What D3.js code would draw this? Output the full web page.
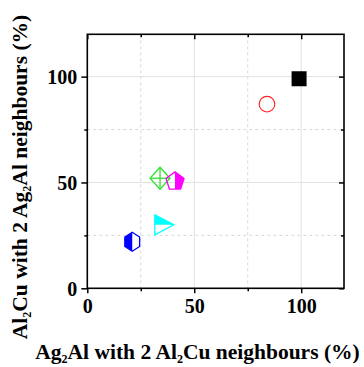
<!DOCTYPE html>
<html><head><meta charset="utf-8">
<script src="https://cdn.jsdelivr.net/npm/d3@7"></script>
<style>
html,body{margin:0;padding:0;background:#fff;}
svg{display:block;}
text{font-family:"Liberation Serif","Times New Roman",serif;font-weight:bold;fill:#000;}
</style>
</head><body>
<svg id="c" width="364" height="367"></svg>
<script>
// ---- data ----
const xValues = [99, 84, 34, 41, 36, 21];
const yValues = [99, 87, 52, 51, 30, 22];
const markerShapes = ["square", "circle", "diamondCross", "pentagonHalf", "triangleHalf", "hexagonHalf"];
const markerColors = ["#000000", "#ff2020", "#33e033", "#ff00ff", "#00ffff", "#0000ff"];
const majorTicks = [0, 50, 100];
const minorTicks = [25, 75];
const axisDomain = [0, 120];
const xTitle = [["Ag", false], ["2", true], ["Al with 2 Al", false], ["2", true], ["Cu neighbours (%)", false]];
const yTitle = [["Al", false], ["2", true], ["Cu with 2 Ag", false], ["2", true], ["Al neighbours (%)", false]];

const svg = d3.select("#c");
const L = 87.3, R = 344, T = 34.3, B = 288.3;
const x = d3.scaleLinear().domain(axisDomain).range([L, R]);
const y = d3.scaleLinear().domain(axisDomain).range([B, T]);

// grid
const g = svg.append("g");
majorTicks.filter(d => d > 0).forEach(d => {
  g.append("line").attr("x1", x(d)).attr("x2", x(d)).attr("y1", T).attr("y2", B).attr("stroke", "#e2e2e2").attr("stroke-width", 1);
  g.append("line").attr("y1", y(d)).attr("y2", y(d)).attr("x1", L).attr("x2", R).attr("stroke", "#e2e2e2").attr("stroke-width", 1);
});
minorTicks.forEach(d => {
  g.append("line").attr("x1", x(d)).attr("x2", x(d)).attr("y1", T).attr("y2", B).attr("stroke", "#d8d8d8").attr("stroke-width", 1).attr("stroke-dasharray", "3,3");
  g.append("line").attr("y1", y(d)).attr("y2", y(d)).attr("x1", L).attr("x2", R).attr("stroke", "#d8d8d8").attr("stroke-width", 1).attr("stroke-dasharray", "3,3");
});

// axes
function styleAxis(sel) {
  sel.select(".domain").remove();
  sel.selectAll(".tick line").attr("stroke", "#000").attr("stroke-width", 1.5);
  sel.selectAll(".tick text").style("font-size", "20px").style("font-family", '"Liberation Serif",serif').style("font-weight", "bold");
}
const xAx = svg.append("g").attr("transform", `translate(0,${B})`)
  .call(d3.axisBottom(x).tickValues(majorTicks).tickSize(5).tickPadding(6).tickFormat(d3.format("d")));
styleAxis(xAx);
const xMin = svg.append("g").attr("transform", `translate(0,${B})`)
  .call(d3.axisBottom(x).tickValues(minorTicks).tickSize(3).tickFormat(""));
styleAxis(xMin);
const yAx = svg.append("g").attr("transform", `translate(${L},0)`)
  .call(d3.axisLeft(y).tickValues(majorTicks).tickSize(6).tickPadding(4).tickFormat(d3.format("d")));
styleAxis(yAx);
yAx.selectAll(".tick text").attr("dy", "0.34em");
const yMin = svg.append("g").attr("transform", `translate(${L},0)`)
  .call(d3.axisLeft(y).tickValues(minorTicks).tickSize(3).tickFormat(""));
styleAxis(yMin);
// top/right inward ticks
const xTop = svg.append("g").attr("transform", `translate(0,${T})`)
  .call(d3.axisTop(x).tickValues(majorTicks).tickSize(-5).tickFormat(""));
styleAxis(xTop);
const xTopMin = svg.append("g").attr("transform", `translate(0,${T})`)
  .call(d3.axisTop(x).tickValues(minorTicks).tickSize(-3).tickFormat(""));
styleAxis(xTopMin);
const yR = svg.append("g").attr("transform", `translate(${R},0)`)
  .call(d3.axisRight(y).tickValues(majorTicks).tickSize(-5).tickFormat(""));
styleAxis(yR);
const yRMin = svg.append("g").attr("transform", `translate(${R},0)`)
  .call(d3.axisRight(y).tickValues(minorTicks).tickSize(-3).tickFormat(""));
styleAxis(yRMin);

// frame
svg.append("rect").attr("x", L).attr("y", T).attr("width", R - L).attr("height", B - T)
  .attr("fill", "none").attr("stroke", "#000").attr("stroke-width", 1.6);

// markers
const m = svg.append("g");
function poly(cx, cy, pts) { return pts.map(p => [cx + p[0], cy + p[1]]); }
xValues.forEach((xv, i) => {
  const cx = x(xv), cy = y(yValues[i]), c = markerColors[i], s = markerShapes[i];
  if (s === "square") {
    m.append("rect").attr("x", cx - 7.5).attr("y", cy - 7.5).attr("width", 15).attr("height", 15).attr("fill", c);
  } else if (s === "circle") {
    m.append("circle").attr("cx", cx).attr("cy", cy).attr("r", 7.8).attr("fill", "none").attr("stroke", c).attr("stroke-width", 1.1);
  } else if (s === "diamondCross") {
    const w = 10, h = 11;
    m.append("polygon").attr("points", poly(cx, cy, [[0, -h], [w, 0], [0, h], [-w, 0]]).join(" "))
      .attr("fill", "none").attr("stroke", c).attr("stroke-width", 1.3);
    m.append("line").attr("x1", cx - w).attr("x2", cx + w).attr("y1", cy).attr("y2", cy).attr("stroke", c).attr("stroke-width", 1.3);
    m.append("line").attr("x1", cx).attr("x2", cx).attr("y1", cy - h).attr("y2", cy + h).attr("stroke", c).attr("stroke-width", 1.3);
  } else if (s === "pentagonHalf") {
    const r = 9.5;
    const pts = d3.range(5).map(k => { const a = -Math.PI / 2 + k * 2 * Math.PI / 5; return [Math.cos(a) * r, Math.sin(a) * r + 1]; });
    const bottomMid = [0, (pts[2][1] + pts[3][1]) / 2];
    m.append("polygon").attr("points", poly(cx, cy, [pts[0], pts[1], pts[2], bottomMid]).join(" ")).attr("fill", c);
    m.append("polygon").attr("points", poly(cx, cy, pts).join(" ")).attr("fill", "none").attr("stroke", c).attr("stroke-width", 1.3);
  } else if (s === "triangleHalf") {
    const w = 9.5, h = 10;
    m.append("polygon").attr("points", poly(cx, cy, [[-w, -h], [w, 0], [-w, 0]]).join(" ")).attr("fill", c);
    m.append("polygon").attr("points", poly(cx, cy, [[-w, -h], [w, 0], [-w, h]]).join(" ")).attr("fill", "none").attr("stroke", c).attr("stroke-width", 1.3);
  } else if (s === "hexagonHalf") {
    const r = 9.5;
    const pts = d3.range(6).map(k => { const a = -Math.PI / 2 + k * Math.PI / 3; return [Math.cos(a) * r * 0.9, Math.sin(a) * r]; });
    m.append("polygon").attr("points", poly(cx, cy, [pts[0], pts[3], pts[4], pts[5]]).join(" ")).attr("fill", c);
    m.append("polygon").attr("points", poly(cx, cy, pts).join(" ")).attr("fill", "none").attr("stroke", c).attr("stroke-width", 1.3);
  }
});

// titles
function title(parts, tx, ty, rot) {
  const t = svg.append("text").attr("text-anchor", "middle").style("font-size", "21.5px")
    .attr("transform", `translate(${tx},${ty}) rotate(${rot})`);
  parts.forEach(([txt, sub]) => {
    const ts = t.append("tspan").text(txt);
    if (sub) ts.attr("baseline-shift", "-35%").style("font-size", "12px");
  });
}
title(xTitle, 197.5, 359, 0);
title(yTitle, 27, 177, -90);
</script>
</body></html>
